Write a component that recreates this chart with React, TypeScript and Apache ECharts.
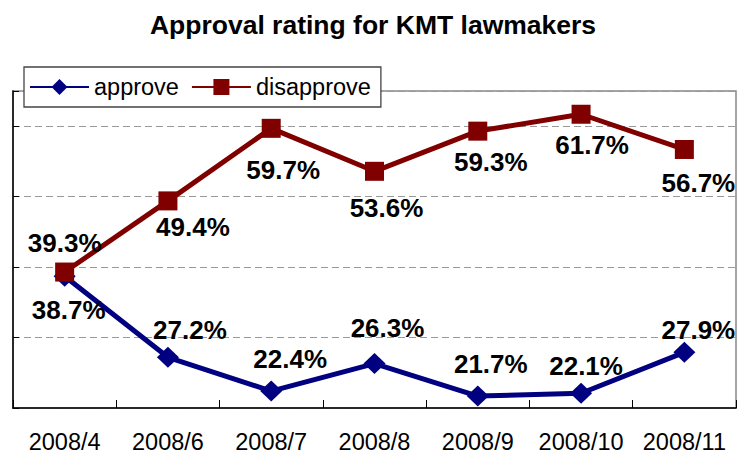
import React, { useEffect, useRef } from "react";
import * as echarts from "echarts";

const categories = ["2008/4", "2008/6", "2008/7", "2008/8", "2008/9", "2008/10", "2008/11"];
const approve = [38.7, 27.2, 22.4, 26.3, 21.7, 22.1, 27.9];
const disapprove = [39.3, 49.4, 59.7, 53.6, 59.3, 61.7, 56.7];
const seriesNames = ["approve", "disapprove"];
const titleText = "Approval rating for KMT lawmakers";

// label placement (layout only): offsets from each marker centre
const approveLabelOffsets = [[4, 34], [22, -27], [19, -32], [13, -36], [13, -32], [5, -27], [14, -22]];
const disapproveLabelOffsets = [[0, -29], [25, 26], [12, 42], [12, 37], [13, 31], [11, 31], [14, 34]];

const FONT = "'Liberation Sans', Arial, Helvetica, sans-serif";

export default function App() {
  const ref = useRef<HTMLDivElement>(null);
  useEffect(() => {
    if (!ref.current) return;
    const chart = echarts.init(ref.current, undefined, { renderer: "svg" });
    const labelBase = {
      show: true,
      position: "inside",
      color: "#000",
      fontSize: 26,
      fontWeight: "bold",
      fontFamily: FONT,
      formatter: (p: any) => Number(p.value).toFixed(1) + "%",
    };
    chart.setOption({
      animation: false,
      backgroundColor: "#fff",
      textStyle: { fontFamily: FONT },
      graphic: [
        {
          type: "text",
          x: 373,
          y: 25,
          z: 10,
          style: {
            text: titleText,
            fill: "#000",
            font: `bold 26.5px ${FONT}`,
            textAlign: "center",
            textVerticalAlign: "middle",
          },
        },
      ],
      legend: {
        data: seriesNames,
        left: 24,
        top: 67,
        orient: "horizontal",
        itemWidth: 59,
        itemHeight: 20,
        itemGap: 12,
        padding: [8, 10, 8, 5],
        borderColor: "#444",
        borderWidth: 1.3,
        backgroundColor: "#fff",
        textStyle: { fontSize: 23.5, color: "#000", fontFamily: FONT },
      },
      grid: {
        left: 13,
        right: 13,
        top: 91,
        bottom: 48,
        show: true,
        borderColor: "#888",
        borderWidth: 1.5,
        backgroundColor: "transparent",
      },
      xAxis: {
        type: "category",
        data: categories,
        boundaryGap: true,
        axisLine: { show: true, lineStyle: { color: "#000", width: 1.5 } },
        axisTick: { show: true, inside: true, length: 8, interval: 0, lineStyle: { color: "#000", width: 1 } },
        axisLabel: { show: true, interval: 0, fontSize: 23.5, color: "#000", margin: 22, fontFamily: FONT },
        splitLine: { show: false },
      },
      yAxis: {
        type: "value",
        min: 20,
        max: 65,
        interval: 10,
        axisLabel: { show: false },
        axisLine: { show: true, lineStyle: { color: "#000", width: 1.5 } },
        axisTick: { show: true, inside: true, length: 6, lineStyle: { color: "#000" } },
        splitLine: { show: true, lineStyle: { color: "#999", type: [7, 4], width: 1 } },
      },
      series: [
        {
          name: seriesNames[0],
          type: "line",
          data: approve.map((v, i) => ({ value: v, label: { offset: approveLabelOffsets[i] } })),
          symbol: "diamond",
          symbolSize: [22, 21],
          showSymbol: true,
          lineStyle: { color: "#000080", width: 5 },
          itemStyle: { color: "#000080" },
          label: labelBase,
          z: 2,
        },
        {
          name: seriesNames[1],
          type: "line",
          data: disapprove.map((v, i) => ({ value: v, label: { offset: disapproveLabelOffsets[i] } })),
          symbol: "rect",
          symbolSize: 19,
          showSymbol: true,
          lineStyle: { color: "#800000", width: 5 },
          itemStyle: { color: "#800000" },
          label: labelBase,
          z: 3,
        },
      ],
    });
    return () => chart.dispose();
  }, []);
  return (
    <div
      ref={ref}
      style={{ position: "absolute", left: 0, top: 0, width: 749, height: 456, background: "#fff" }}
    />
  );
}
